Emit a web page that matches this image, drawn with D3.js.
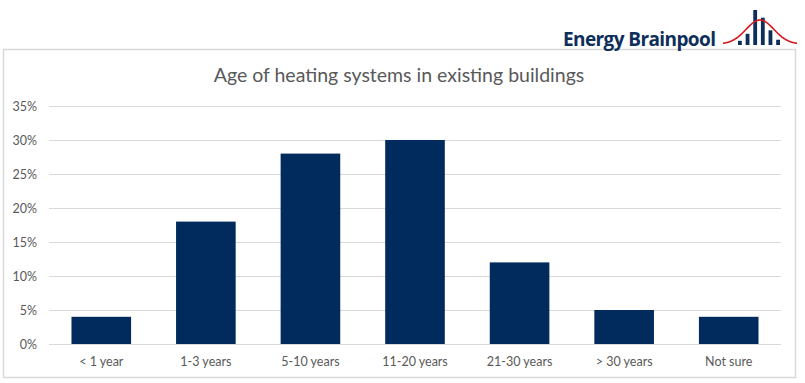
<!DOCTYPE html>
<html>
<head>
<meta charset="utf-8">
<script src="https://cdn.jsdelivr.net/npm/d3@7"></script>
<style>
  body { margin: 0; background: #fff; }
  svg text { font-family: Lato, "Open Sans", sans-serif; }
</style>
</head>
<body>
<div class="root"></div>
<script>
var categories = ['< 1 year', '1-3 years', '5-10 years', '11-20 years', '21-30 years', '> 30 years', 'Not sure'];
var shares = [0.04, 0.18, 0.28, 0.30, 0.12, 0.05, 0.04];
var yTicks = [0, 0.05, 0.10, 0.15, 0.20, 0.25, 0.30, 0.35];
// logo icon bars (relative heights) and bell curve
var logoBars = [0.12, 0.32, 1.0, 0.78, 0.42, 0.15];

function drawChart() {
  var w = 805, h = 383;
  var svg = d3.select('.root').append('svg')
    .attr('width', w)
    .attr('height', h);

  // chart frame
  svg.append('rect')
    .attr('x', 3.5).attr('y', 49.5)
    .attr('width', 792).attr('height', 328)
    .attr('fill', '#fff')
    .attr('stroke', '#d9d9d9')
    .attr('stroke-width', 1.5);

  var x = d3.scaleBand()
    .domain(categories)
    .range([49, 781])
    .paddingInner(0.43)
    .paddingOuter(0.215);

  var y = d3.scaleLinear()
    .domain([0, 0.35])
    .range([344, 106]);

  // gridlines
  svg.append('g')
    .selectAll('line')
    .data(yTicks)
    .enter().append('line')
      .attr('x1', 49)
      .attr('x2', 781)
      .attr('y1', function(d) { return y(d) + 0.5; })
      .attr('y2', function(d) { return y(d) + 0.5; })
      .attr('stroke', '#d9d9d9')
      .attr('stroke-width', 1);

  // y axis labels
  var yAxis = d3.axisLeft(y)
    .tickValues(yTicks)
    .tickFormat(d3.format('.0%'))
    .tickSize(0)
    .tickPadding(0);
  var gy = svg.append('g')
    .attr('transform', 'translate(37,0)')
    .call(yAxis);
  gy.select('.domain').remove();
  gy.selectAll('text')
    .attr('fill', '#595959')
    .style('font-size', '12.5px');

  // bars
  svg.append('g')
    .selectAll('rect')
    .data(categories)
    .enter().append('rect')
      .attr('x', function(d) { return x(d); })
      .attr('width', x.bandwidth())
      .attr('y', function(d, i) { return y(shares[i]); })
      .attr('height', function(d, i) { return y(0) - y(shares[i]); })
      .attr('fill', '#002b5c');

  // x axis labels
  var xAxis = d3.axisBottom(x)
    .tickSize(0)
    .tickPadding(0);
  var gx = svg.append('g')
    .attr('transform', 'translate(0,357)')
    .call(xAxis);
  gx.select('.domain').remove();
  gx.selectAll('text')
    .attr('fill', '#595959')
    .style('font-size', '12.5px');

  // title
  svg.append('text')
    .attr('x', 399)
    .attr('y', 82)
    .attr('text-anchor', 'middle')
    .attr('fill', '#595959')
    .style('font-size', '19.5px')
    .text('Age of heating systems in existing buildings');

  // logo
  svg.append('text')
    .attr('x', 563)
    .attr('y', 46)
    .attr('fill', '#0e2f5a')
    .style('font-family', '"Open Sans", sans-serif')
    .style('font-weight', 'bold')
    .style('font-size', '19px')
    .style('letter-spacing', '-0.6px')
    .text('Energy Brainpool');

  var lx = d3.scaleBand()
    .domain(d3.range(logoBars.length))
    .range([738, 780])
    .paddingInner(0.5);
  var ly = d3.scaleLinear().domain([0, 1]).range([45, 10]);
  svg.append('g')
    .selectAll('rect')
    .data(logoBars)
    .enter().append('rect')
      .attr('x', function(d, i) { return lx(i); })
      .attr('width', lx.bandwidth())
      .attr('y', function(d) { return ly(d); })
      .attr('height', function(d) { return ly(0) - ly(d); })
      .attr('fill', '#0e2f5a');

  var curveX = d3.range(723, 798, 1);
  var bell = d3.line()
    .x(function(d) { return d; })
    .y(function(d) { return 44 - 24 * Math.exp(-Math.pow((d - 760) / 14, 2) / 2); })
    .curve(d3.curveBasis);
  svg.append('path')
    .attr('d', bell(curveX))
    .attr('fill', 'none')
    .attr('stroke', '#d7191f')
    .attr('stroke-width', 1.6);
}

window.onload = function() {
  drawChart();
};
</script>
</body>
</html>
